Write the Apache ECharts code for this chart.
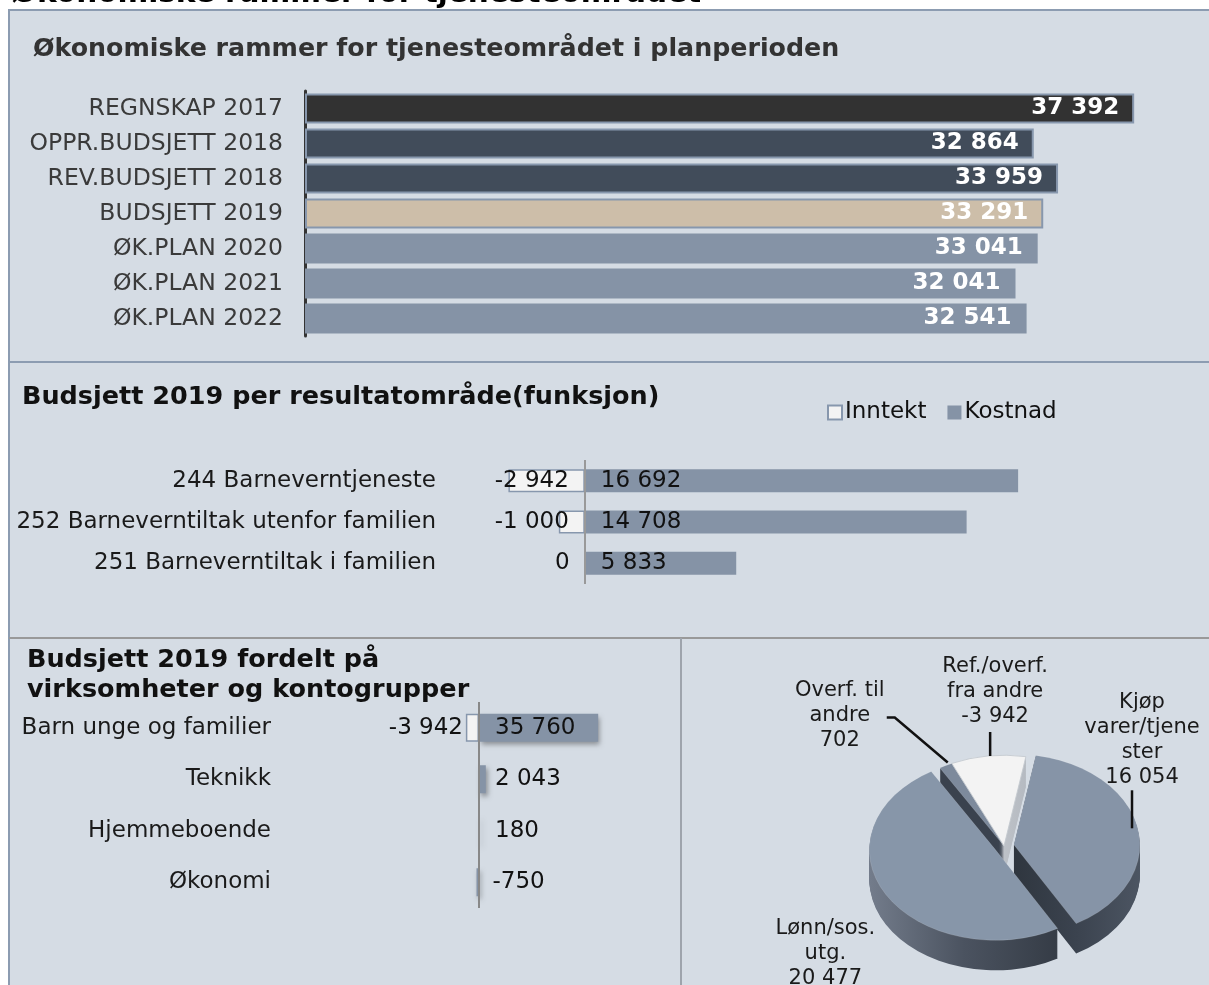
<!DOCTYPE html>
<html>
<head>
<meta charset="utf-8">
<script src="https://cdn.jsdelivr.net/npm/echarts/dist/echarts.min.js"></script>
<style>
  html, body { margin: 0; padding: 0; background: #fff; }
  #main { width: 1209px; height: 985px; }
</style>
</head>
<body>
<div id="main"></div>
<script>
// --- data ---
var rammeKategorier = ['REGNSKAP 2017', 'OPPR.BUDSJETT 2018', 'REV.BUDSJETT 2018', 'BUDSJETT 2019', 'ØK.PLAN 2020', 'ØK.PLAN 2021', 'ØK.PLAN 2022'];
var rammeVerdier = [37392, 32864, 33959, 33291, 33041, 32041, 32541];

var funksjonKategorier = ['244 Barneverntjeneste', '252 Barneverntiltak utenfor familien', '251 Barneverntiltak i familien'];
var funksjonInntekt = [-2942, -1000, 0];
var funksjonKostnad = [16692, 14708, 5833];

var virksomhetKategorier = ['Barn unge og familier', 'Teknikk', 'Hjemmeboende', 'Økonomi'];
var virksomhetInntekt = [-3942, null, null, null];
var virksomhetKostnad = [35760, 2043, 180, -750];

var kontoNavn = ['Kjøp\nvarer/tjene\nster', 'Lønn/sos.\nutg.', 'Overf. til\nandre', 'Ref./overf.\nfra andre'];
var kontoVerdier = [16054, 20477, 702, -3942];

// --- styles ---
var FONT = 'DejaVu Sans';
var rammeFarger = ['#323232', '#414c5a', '#414c5a', '#cdbea9', '#8593a6', '#8593a6', '#8593a6'];
var inntektFarge = '#f3f3f3';
var kostnadFarge = '#8593a6';

function fmt(v) {
    var s = Math.abs(v).toString().replace(/\B(?=(\d{3})+(?!\d))/g, ' ');
    return (v < 0 ? '-' : '') + s;
}

// 3D-ish pie made with a custom series
var PIE = { cx: 1004, cy: 846, r: 126, k: 0.72, depth: 30, start: 10 };
var pieExplode = [10, 10, 0, 0];
var pieTop = ['#8694a7', '#8796a9', '#7d8a9c', '#f3f3f3'];
var pieSide = [
    ['#2f363f', '#3b434f', '#4c5562'],
    ['#737c8b', '#4b5360', '#353c46'],
    ['#3a424e', '#3a424e', '#3a424e'],
    ['#a9afb7', '#c3c7cc', '#b5bac1']
];
// label centre relative to the rim point at the slice middle, and leader line
var pieLabelLayout = [
    { dx: 4, dy: -89, line: [[-6, -1], [-6, -39]] },
    { dx: -61, dy: 58, line: null },
    { dx: -106, dy: -50, line: [[2, -3], [-51, -48], [-59, -48]] },
    { dx: 7, dy: -64, line: [[2, 0], [2, -24]] }
];

var pieTotal = kontoVerdier.reduce(function (a, v) { return a + Math.abs(v); }, 0);
var pieSlices = [];
(function () {
    var a = PIE.start;
    kontoVerdier.forEach(function (v) {
        var span = Math.abs(v) / pieTotal * 360;
        pieSlices.push({ start: a, end: a + span, mid: a + span / 2 });
        a += span;
    });
})();

function rad(d) { return d * Math.PI / 180; }

function renderPie(params, api) {
    var i = params.dataIndex;
    var s = pieSlices[i];
    var ex = pieExplode[i];
    var offX = ex * Math.sin(rad(s.mid));
    var offY = -ex * Math.cos(rad(s.mid)) * PIE.k;
    var sa = rad(s.start - 90), ea = rad(s.end - 90);
    var children = [];
    var side = pieSide[i];
    var sideFill = new echarts.graphic.LinearGradient(0, 0, 1, 0, [
        { offset: 0, color: side[0] }, { offset: 0.5, color: side[1] }, { offset: 1, color: side[2] }
    ]);
    // slices further back get their walls painted first
    var sideZ = 5 + Math.round(-Math.cos(rad(s.mid)) * 10);
    for (var d = PIE.depth; d >= 1; d--) {
        children.push({
            type: 'sector', x: PIE.cx + offX, y: PIE.cy + offY + d, scaleY: PIE.k,
            shape: { cx: 0, cy: 0, r: PIE.r, startAngle: sa, endAngle: ea },
            style: { fill: sideFill }, z2: sideZ
        });
    }
    children.push({
        type: 'sector', x: PIE.cx + offX, y: PIE.cy + offY, scaleY: PIE.k,
        shape: { cx: 0, cy: 0, r: PIE.r, startAngle: sa, endAngle: ea },
        style: { fill: pieTop[i], stroke: i === 3 ? '#c4c9cf' : 'rgba(255,255,255,0.15)', lineWidth: 1 }, z2: 30
    });
    // rim point at middle of slice
    var ax = PIE.cx + offX + PIE.r * Math.sin(rad(s.mid));
    var ay = PIE.cy + offY - PIE.r * PIE.k * Math.cos(rad(s.mid));
    var lay = pieLabelLayout[i];
    if (lay.line) {
        children.push({
            type: 'polyline', z2: 40,
            shape: { points: lay.line.map(function (p) { return [ax + p[0], ay + p[1]]; }) },
            style: { stroke: '#111', lineWidth: 2.5, fill: null }
        });
    }
    children.push({
        type: 'text', z2: 40, x: ax + lay.dx, y: ay + lay.dy,
        style: {
            text: kontoNavn[i] + '\n' + fmt(kontoVerdier[i]),
            fontFamily: FONT, fontSize: 21, lineHeight: 25, fill: '#1a1a1a',
            align: 'center', verticalAlign: 'middle'
        }
    });
    return { type: 'group', children: children };
}

var catLabel = { fontFamily: FONT, fontSize: 23, color: '#1a1a1a' };

var chart = echarts.init(document.getElementById('main'));
chart.setOption({
    animation: false,
    backgroundColor: '#ffffff',
    textStyle: { fontFamily: FONT },
    graphic: [
        { type: 'rect', z: -10, shape: { x: 9, y: 10, width: 1210, height: 990 },
          style: { fill: '#d5dce4', stroke: '#8c9cb1', lineWidth: 2 } },
        { type: 'line', z: -9, shape: { x1: 9, y1: 362, x2: 1209, y2: 362 }, style: { stroke: '#8c9cb1', lineWidth: 2 } },
        { type: 'line', z: -9, shape: { x1: 9, y1: 638, x2: 1209, y2: 638 }, style: { stroke: '#999999', lineWidth: 2 } },
        { type: 'line', z: -9, shape: { x1: 681, y1: 638, x2: 681, y2: 985 }, style: { stroke: '#9ea4ac', lineWidth: 2 } },
        { type: 'text', z: 5, x: 12, y: 9,
          style: { text: 'Økonomiske rammer for tjenesteområdet', font: 'bold 29.5px "DejaVu Sans"', fill: '#000', verticalAlign: 'bottom' } }
    ],
    title: [
        { text: 'Økonomiske rammer for tjenesteområdet i planperioden', left: 28, top: 32,
          textStyle: { fontFamily: FONT, fontSize: 25.3, fontWeight: 'bold', color: '#333' } },
        { text: 'Budsjett 2019 per resultatområde(funksjon)', left: 17, top: 379,
          textStyle: { fontFamily: FONT, fontSize: 25.5, fontWeight: 'bold', color: '#111' } },
        { text: 'Budsjett 2019 fordelt på\nvirksomheter og kontogrupper', left: 22, top: 640,
          textStyle: { fontFamily: FONT, fontSize: 25.5, fontWeight: 'bold', color: '#111', lineHeight: 30 } }
    ],
    legend: {
        data: ['Inntekt', 'Kostnad'], left: 822, top: 396,
        icon: 'rect', itemWidth: 14, itemHeight: 14, itemGap: 21,
        textStyle: { fontFamily: FONT, fontSize: 23, color: '#111', padding: [0, 0, 0, -2] }
    },
    grid: [
        { left: 305, top: 91, width: 887, height: 245 },
        { left: 455, top: 460, width: 649, height: 124 },
        { left: 279, top: 702, width: 400, height: 206 }
    ],
    xAxis: [
        { gridIndex: 0, type: 'value', min: 0, max: 40000, show: false },
        { gridIndex: 1, type: 'value', min: -5000, max: 20000, show: false },
        { gridIndex: 2, type: 'value', min: -60000, max: 60000, show: false }
    ],
    yAxis: [
        { gridIndex: 0, type: 'category', data: rammeKategorier, inverse: true,
          axisLine: { lineStyle: { color: '#333', width: 3 } }, axisTick: { show: false },
          axisLabel: { fontFamily: FONT, fontSize: 23.5, color: '#3a3a3a', margin: 22 } },
        { gridIndex: 1, type: 'category', data: funksjonKategorier, inverse: true,
          axisLine: { show: false }, axisTick: { show: false },
          axisLabel: Object.assign({ margin: 19 }, catLabel) },
        { gridIndex: 2, type: 'category', data: virksomhetKategorier, inverse: true,
          axisLine: { show: false }, axisTick: { show: false },
          axisLabel: Object.assign({ margin: 8 }, catLabel) }
    ],
    series: [
        {
            type: 'bar', xAxisIndex: 0, yAxisIndex: 0, barCategoryGap: '14%',
            data: rammeVerdier.map(function (v, i) {
                return { value: v, itemStyle: { color: rammeFarger[i], borderColor: i < 4 ? '#8797ad' : rammeFarger[i], borderWidth: i < 4 ? 2 : 0 } };
            }),
            label: { show: true, position: 'insideRight', distance: 15, color: '#ffffff',
                     fontFamily: FONT, fontSize: 23, fontWeight: 'bold',
                     formatter: function (p) { return fmt(p.value); } }
        },
        {
            name: 'Inntekt', type: 'bar', xAxisIndex: 1, yAxisIndex: 1, barWidth: 23, barGap: '-100%',
            data: funksjonInntekt,
            itemStyle: { color: inntektFarge, borderColor: '#8797ad', borderWidth: 1.5 },
            label: { show: true, position: 'insideRight', distance: 16, color: '#111',
                     fontFamily: FONT, fontSize: 23, formatter: function (p) { return fmt(p.value); } }
        },
        {
            name: 'Kostnad', type: 'bar', xAxisIndex: 1, yAxisIndex: 1, barWidth: 23, barGap: '-100%',
            data: funksjonKostnad,
            itemStyle: { color: kostnadFarge },
            label: { show: true, position: 'insideLeft', distance: 16, color: '#111',
                     fontFamily: FONT, fontSize: 23, formatter: function (p) { return fmt(p.value); } },
            markLine: { silent: true, symbol: 'none', label: { show: false },
                        lineStyle: { color: '#999', width: 2, type: 'solid' }, data: [{ xAxis: 0 }] }
        },
        {
            name: 'Inntekt', type: 'bar', xAxisIndex: 2, yAxisIndex: 2, barWidth: 28, barGap: '-100%',
            data: virksomhetInntekt,
            itemStyle: { color: inntektFarge, borderColor: '#8797ad', borderWidth: 1.5 },
            label: { show: true, position: 'insideRight', distance: 16, color: '#111',
                     fontFamily: FONT, fontSize: 23, formatter: function (p) { return fmt(p.value); } }
        },
        {
            name: 'Kostnad', type: 'bar', xAxisIndex: 2, yAxisIndex: 2, barWidth: 28, barGap: '-100%',
            data: virksomhetKostnad,
            itemStyle: { color: kostnadFarge, shadowBlur: 5, shadowColor: 'rgba(0,0,0,0.35)', shadowOffsetX: 2, shadowOffsetY: 3 },
            label: { show: true, position: 'insideLeft', distance: 16, color: '#111',
                     fontFamily: FONT, fontSize: 23, formatter: function (p) { return fmt(p.value); } },
            markLine: { silent: true, symbol: 'none', label: { show: false },
                        lineStyle: { color: '#888', width: 2, type: 'solid' }, data: [{ xAxis: 0 }] }
        },
        {
            type: 'custom', coordinateSystem: 'none', silent: true,
            data: kontoVerdier.map(function (v) { return Math.abs(v); }),
            renderItem: renderPie
        }
    ]
});
</script>
</body>
</html>
